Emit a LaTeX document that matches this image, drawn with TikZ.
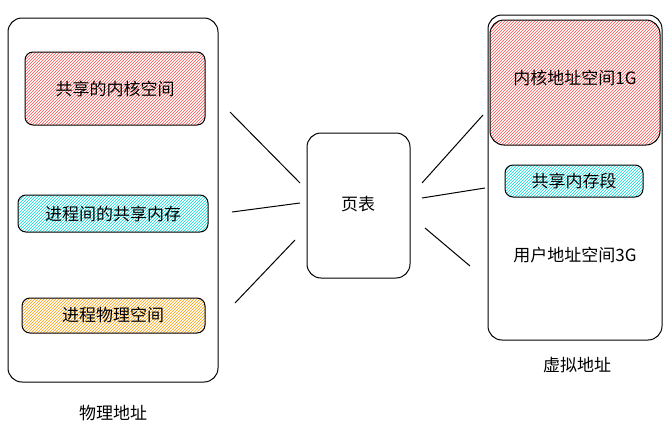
\documentclass[tikz,border=0pt]{standalone}
\usepackage{fontspec}
\setmainfont{Noto Sans CJK SC}
\usetikzlibrary{patterns}
\begin{document}
\begin{tikzpicture}[x=1pt,y=-1pt,
  box/.style={draw=black,line width=1pt,rounded corners=14pt},
  sbox/.style={draw=black,line width=1pt,rounded corners=8pt},
  lbl/.style={font=\fontsize{17pt}{19pt}\selectfont},
  ln/.style={line width=1pt}]
\useasboundingbox (0,0) rectangle (672,439);
\draw[box] (8,18) rectangle (218,382);
\draw[sbox,pattern=north east lines,pattern color=red!70] (25,52) rectangle (205,125);
\draw[sbox,pattern=north east lines,pattern color=cyan!70!teal] (18,195) rectangle (208,232);
\draw[sbox,pattern=north east lines,pattern color=orange!80!yellow] (22,298) rectangle (205,333);
\node[lbl] (a) at (115,89) {共享的内核空间};
\node[lbl] (b) at (113,214) {进程间的共享内存};
\node[lbl] (c) at (113,315) {进程物理空间};
\node[lbl] (pl) at (113,413) {物理地址};
\draw[box] (307,133) rectangle (410,278);
\node[lbl] (pt) at (358,204) {页表};
\draw[box] (488,15) rectangle (662,340);
\draw[box,pattern=north east lines,pattern color=red!70] (490,20) rectangle (660,145);
\draw[sbox,pattern=north east lines,pattern color=cyan!70!teal] (505,165) rectangle (643,197);
\node[lbl] (d) at (575,78) {内核地址空间1G};
\node[lbl] (e) at (574,181) {共享内存段};
\node[lbl] (f) at (575,255) {用户地址空间3G};
\node[lbl] (vl) at (577,365) {虚拟地址};
\coordinate (l1a) at (230,112); \coordinate (l1b) at (300,183);
\coordinate (l2a) at (232,212); \coordinate (l2b) at (300,203);
\coordinate (l3a) at (235,303); \coordinate (l3b) at (295,240);
\coordinate (r1a) at (422,183); \coordinate (r1b) at (483,115);
\coordinate (r2a) at (422,198); \coordinate (r2b) at (485,188);
\coordinate (r3a) at (425,228); \coordinate (r3b) at (470,266);
\foreach \p in {l1,l2,l3,r1,r2,r3} \draw[ln] (\p a) -- (\p b);
\end{tikzpicture}
\end{document}
